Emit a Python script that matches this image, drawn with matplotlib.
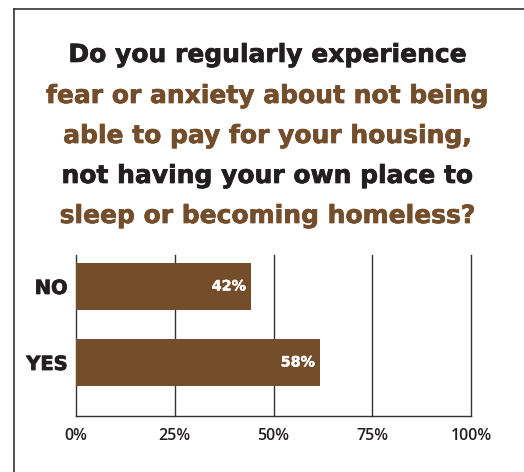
import matplotlib
matplotlib.use("Agg")
import matplotlib.pyplot as plt
from matplotlib.lines import Line2D
import matplotlib.patheffects as pe

categories = ["YES", "NO"]
bar_values = [61.8, 44.3]          # bar lengths as drawn in the picture
value_labels = ["58%", "42%"]
x_ticks = [0, 25, 50, 75, 100]
x_tick_labels = ["0%", "25%", "50%", "75%", "100%"]
title_lines = [
    ("Do you regularly experience", "dark"),
    ("fear or anxiety about not being", "brown"),
    ("able to pay for your housing,", "brown"),
    ("not having your own place to", "dark"),
    ("sleep or becoming homeless?", "brown"),
]

BROWN = "#744d2b"
DARK = "#231f20"
FONT = ["Open Sans", "DejaVu Sans"]
BOLDFONT = ["DejaVu Sans"]

W, H = 524, 472
fig = plt.figure(figsize=(W / 100, H / 100), dpi=100)
fig.patch.set_facecolor("white")

# frame
fig.add_artist(Line2D([14 / W, 14 / W], [1 - 9 / H, 0], transform=fig.transFigure,
                      color="#333333", lw=1.2))
fig.add_artist(Line2D([14 / W, 1], [1 - 9 / H, 1 - 9 / H], transform=fig.transFigure,
                      color="#333333", lw=1.2))

# title
ys = [55, 96, 136, 176, 216]
for (txt, c), y in zip(title_lines, ys):
    col = BROWN if c == "brown" else DARK
    fig.text(268 / W, 1 - y / H, txt, ha="center", va="center", fontsize=18,
             fontweight="bold", family=BOLDFONT, color=col,
             path_effects=[pe.withStroke(linewidth=0.5, foreground=col)])

ax = fig.add_axes([76 / W, 1 - 416 / H, (471 - 76) / W, (416 - 255) / H])
pos = list(range(len(categories)))
bars = ax.barh(pos, bar_values, height=0.62, color=BROWN, zorder=3)
for b, lab in zip(bars, value_labels):
    ax.text(b.get_width() - 1.3, b.get_y() + b.get_height() / 2, lab,
            ha="right", va="center", color="white", fontsize=10.3,
            fontweight="bold", family=BOLDFONT, zorder=4,
            path_effects=[pe.withStroke(linewidth=0.3, foreground="white")])

ax.set_xlim(0, 100)
ax.set_ylim(-0.704, 1.414)
ax.set_xticks(x_ticks)
ax.set_xticklabels(x_tick_labels, fontsize=11.5, family=FONT, fontweight="semibold",
                   color=DARK)
ax.set_yticks(pos)
ax.set_yticklabels(categories, fontsize=14, family=BOLDFONT, fontweight="bold", color=DARK)
for t in ax.get_yticklabels():
    t.set_path_effects([pe.withStroke(linewidth=0.6, foreground=DARK)])
ax.tick_params(axis="both", length=0)
ax.tick_params(axis="x", pad=9)
ax.tick_params(axis="y", pad=6)
ax.grid(axis="x", color="#333333", lw=1.0, zorder=1)
for gl in ax.get_xgridlines():
    gl.set_clip_on(False)
for s in ["top", "right", "left"]:
    ax.spines[s].set_visible(False)
ax.spines["bottom"].set_color("#333333")
ax.spines["bottom"].set_linewidth(1.0)

fig.savefig("out.png", dpi=100, facecolor="white")
